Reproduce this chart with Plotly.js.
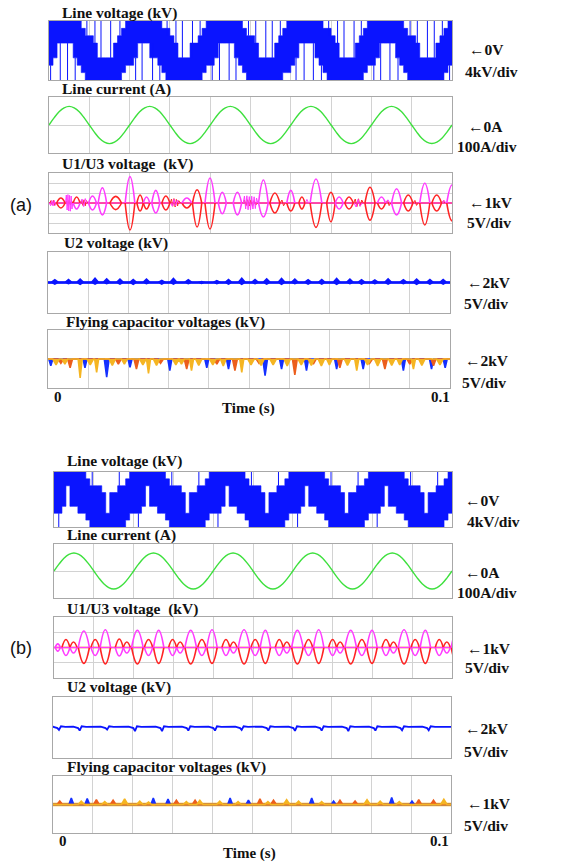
<!DOCTYPE html>
<html><head><meta charset="utf-8">
<script src="https://cdn.plot.ly/plotly-3.0.1.min.js"></script>
<style>html,body{margin:0;padding:0;background:#fff}#chart{width:583px;height:863px}</style>
</head><body><div id="chart"></div>
<script>
// ---------------- DATA (time in ms, 0..100 = 0..0.1 s) ----------------
const lvT = Array.from({length:101},(_,i)=>i);
// Line voltage envelopes (kV), panel (a)
const lvAU = [
10,10,10,10,10,10,10,8,6,4, 4,2,-2,-2,-2,-2,2,4,6,8,
10,10,10,10,10,10,10,8,6,6, 4,2,-2,-2,-2,2,2,4,6,8,
10,10,10,10,10,10,10,8,6,4, 4,2,-2,-2,-2,-2,2,4,6,8,
10,10,10,10,10,10,10,8,6,6, 4,2,-2,-2,-2,-2,2,4,6,8,
10,10,10,10,10,10,10,8,6,4, 4,2,-2,-2,-2,-2,2,4,6,8,
8];
const lvAL = [
-4,-2,2,2,2,2,-2,-4,-6,-8, -10,-10,-10,-10,-10,-10,-10,-8,-6,-4,
-4,-2,2,2,2,-2,-2,-4,-6,-8, -10,-10,-10,-10,-10,-10,-10,-8,-6,-4,
-4,-2,2,2,2,2,-2,-4,-6,-8, -10,-10,-10,-10,-10,-10,-10,-8,-6,-6,
-4,-2,2,2,2,2,-2,-4,-6,-8, -10,-10,-10,-10,-10,-10,-10,-8,-6,-4,
-4,-2,2,2,2,2,-2,-4,-6,-8, -10,-10,-10,-10,-10,-10,-10,-8,-6,-4,
-4];
// PWM spikes (a): time, from, to (kV)
const spkAT  = [0.4,2.8,4.6,6.5,9.4,11.4,12.9,15.3,17.6, 21.5,23.1,25.7,27.5,29.3,31.5,33.1,35.6,37.5,
 40.5,42.3,44.7,46.4,49.5,51.3,53.8,55.4,57.4, 61.3,63.3,65.6,67.6,69.4,71.6,73.2,75.7,77.5,
 80.6,82.3,84.6,86.6,89.6,91.4,93.9,95.6,97.6,99.4];
const spkAY0 = [-4,2,2,-2,4,2,-2,-2,4, -2,2,2,-4,4,2,-2,-2,4, -4,2,2,-2,4,2,-2,-2,4, -2,2,2,-4,4,2,-2,-2,4, -4,2,2,-2,4,2,-2,-2,4,-4];
const spkAY1 = [-10,-8,-10,-8,8,10,8,10,8, -10,-8,-10,-8,10,8,10,8,10, -10,-10,-8,-8,10,10,8,10,8, -10,-8,-10,-8,8,10,10,8,10, -10,-10,-8,-8,10,10,8,10,8,-10];
// Line voltage envelopes (kV), panel (b)
const lvBU = [
10,10,10,10,10,10,10,8,6,4, 4,4,2,-4,2,2,4,4,6,8,
10,10,10,10,10,10,10,8,6,4, 4,4,2,-4,2,2,4,4,6,8,
10,10,10,10,10,10,10,8,6,4, 4,4,2,-4,2,2,4,4,6,8,
10,10,10,10,10,10,10,8,6,4, 4,4,2,-4,2,2,4,4,6,8,
10,10,10,10,10,10,10,8,6,4, 4,4,2,-4,2,2,4,4,6,8,
8];
const lvBL = [
-4,-4,-2,4,-2,-2,-4,-4,-6,-8, -10,-10,-10,-10,-10,-10,-10,-8,-6,-4,
-4,-4,-2,4,-2,-2,-4,-4,-6,-8, -10,-10,-10,-10,-10,-10,-10,-8,-6,-4,
-4,-4,-2,4,-2,-2,-4,-4,-6,-8, -10,-10,-10,-10,-10,-10,-10,-8,-6,-4,
-4,-4,-2,4,-2,-2,-4,-4,-6,-8, -10,-10,-10,-10,-10,-10,-10,-8,-6,-4,
-4,-4,-2,4,-2,-2,-4,-4,-6,-8, -10,-10,-10,-10,-10,-10,-10,-8,-6,-4,
-4];
const spkBT  = [1.2,9.6,16.4, 21.2,29.6,36.4, 41.2,49.6,56.4, 61.2,69.6,76.4, 81.2,89.6,96.4];
const spkBY0 = [-4,4,4, -4,4,4, -4,4,4, -4,4,4, -4,4,4];
const spkBY1 = [-8,8,8, -8,8,8, -8,8,8, -8,8,8, -8,8,8];

// Line current (A), sampled every 1.25 ms
const curT = Array.from({length:81},(_,i)=>i*1.25);
const curA = [0,38,71,92,100,92,71,38,0,-38,-71,-92,-100,-92,-71,-38,
 0,38,71,92,100,92,71,38,0,-38,-71,-92,-100,-92,-71,-38,
 0,38,71,92,100,92,71,38,0,-38,-71,-92,-100,-92,-71,-38,
 0,38,71,92,100,92,71,38,0,-38,-71,-92,-100,-92,-71,-38,
 0,38,71,92,100,92,71,38,0,-38,-71,-92,-99,-92,-71,-38,0];
const curB = [0,38,71,92,100,92,71,38,0,-38,-71,-92,-100,-92,-71,-38,
 0,38,71,92,100,92,71,38,0,-38,-71,-92,-100,-92,-71,-38,
 0,38,71,92,100,92,71,38,0,-38,-71,-92,-100,-92,-71,-38,
 0,38,71,92,100,92,71,38,0,-38,-71,-92,-100,-92,-71,-38,
 0,38,71,92,100,92,71,38,0,-38,-71,-92,-100,-92,-71,-38,0];

// U1/U3 lenses: [start ms, end ms, top V, bottom V, top colour, bottom colour]
const lensA = [
[1.9,4.0,2.5,-2.5,'r','r'],[6.0,7.7,3,-3,'r','m'],[9.8,11.8,3.5,-3.5,'m','m'],[12.2,14.3,7.6,-6,'m','m'],
[15.1,18.0,3.3,-3.3,'r','r'],[18.9,21.3,13.2,-13.5,'m','r'],[21.8,23.4,4,-4,'r','r'],[23.4,25.0,3,-3,'m','r'],
[25.5,27.5,6.3,-5,'m','m'],[28.0,30.0,3.5,-3.5,'r','r'],[33.0,35.4,2.5,-2.5,'m','r'],[35.6,37.9,6.6,-12,'r','r'],
[38.7,41.2,12.5,-13,'m','r'],[42.0,44.0,5.4,-5.4,'m','m'],[45.7,47.8,5.4,-6,'m','m'],[52.0,54.4,11.5,-7,'m','m'],
[54.8,57.3,5,-5,'r','r'],[59.0,61.0,6.3,-4,'m','r'],[62.0,63.5,3,-3,'r','r'],[64.8,67.7,12,-12.2,'m','r'],
[68.9,71.0,5.4,-9.4,'r','r'],[71.0,73.0,3,-3,'m','m'],[73.4,75.5,3,-3,'r','r'],[78.4,80.9,7.9,-8.6,'r','r'],
[81.5,83.5,3,-3,'m','r'],[85.0,87.5,7.1,-6,'m','m'],[88.0,90.3,4,-4,'r','r'],[92.0,94.5,9.9,-11,'m','r'],
[95.0,97.4,4,-4,'r','r'],[98.7,101.3,9,-8.9,'m','r']];
const noiseART = [0.2,0.5,0.8,1.1,1.4,1.7,null,4.1,4.4,4.7,5.0,5.3,5.6,5.9,null,7.8,8.1,8.4,8.7,9.0,9.3,9.6,null,30.1,30.4,30.7,31.0,31.3,31.6,31.9,32.2,32.6,null,48.1,48.5,48.9,49.3,49.7,50.1,50.5,50.9,51.3,51.7,null,57.4,57.8,58.2,58.6,null,75.6,76.0,76.4,76.8,77.2,77.6,78.0,null,83.6,84.0,84.4,84.8,null,90.4,90.8,91.2,91.6,null,97.5,97.9,98.3];
const noiseARV = [0,1.2,-1,1.3,-1.2,0,null,0,1,-1.2,1.4,-1,1.1,0,null,0,1.5,-1.2,1.6,-1.4,1.2,0,null,0,2,-1.6,2.2,-2,1.8,-1.5,1.2,0,null,0,1.5,-1.3,1.6,-1.5,1.4,-1.6,1.2,-1,0,null,0,1.5,-1.4,0,null,0,2,-1.8,2.1,-1.6,1.5,0,null,0,1.4,-1.3,0,null,0,1.3,-1.2,0,null,0,1.2,0];
const noiseAMT = [0.1,0.4,0.7,1.0,1.3,1.6,1.9,null,4.1,4.3,4.5,4.7,4.9,5.1,5.3,5.5,5.7,5.9,null,7.8,8.2,8.6,9.0,9.4,null,30.2,30.6,31.0,31.4,31.8,32.2,null,48.2,48.5,48.8,49.1,49.4,49.7,50.0,50.3,50.6,50.9,51.2,51.5,51.8,null,63.6,64.0,64.4,null,75.7,76.2,76.7,77.2,77.7,null,83.6,84.1,84.6,null,97.5,98.0,98.5];
const noiseAMV = [0,-1.4,1.2,-1.5,1.3,-1.1,0,null,0,4,-3.5,4.2,-4,3.8,-4.1,3.5,-3,0,null,0,2,-1.8,2.2,0,null,0,-1.6,1.8,-1.5,1.4,0,null,0,3.5,-3,3.6,-3.4,3.2,-3.5,3.4,-3,3.1,-2.8,2.5,0,null,0,1.8,0,null,0,-2,1.8,-1.6,0,null,0,1.6,0,null,0,1.4,0];

const lensB = [
[0.3,1.6,1.2,-1.2,'m','m'],[2.0,4.0,2.6,-2.6,'r','m'],[4.0,5.8,1.8,-1.8,'r','m'],[6.1,8.9,5.4,-5.2,'m','r'],
[9.3,11.4,2.6,-2.6,'r','m'],[11.6,14.2,5.8,-5.4,'m','r'],[15.4,17.4,2.8,-2.8,'r','m'],[17.4,19.2,1.8,-1.8,'r','m'],
[19.5,22.4,5.6,-5.4,'m','r'],[22.7,24.8,2.6,-2.6,'r','m'],[25.0,27.6,5.6,-5.2,'m','r'],[28.8,30.8,2.6,-2.6,'r','m'],
[30.8,32.6,1.8,-1.8,'r','m'],[32.9,35.8,5.6,-5.4,'m','r'],[36.1,38.2,2.6,-2.6,'r','m'],[38.4,41.0,5.8,-5.2,'m','r'],
[42.2,44.2,2.6,-2.6,'r','m'],[44.2,46.0,1.8,-1.8,'r','m'],[46.3,49.2,5.8,-5.4,'m','r'],[49.5,51.6,2.6,-2.6,'r','m'],
[51.8,54.4,5.6,-5.2,'m','r'],[55.6,57.6,2.6,-2.6,'r','m'],[57.6,59.4,1.8,-1.8,'r','m'],[59.7,62.6,5.6,-5.4,'m','r'],
[62.9,65.0,2.6,-2.6,'r','m'],[65.2,67.8,5.8,-5.2,'m','r'],[69.0,71.0,2.6,-2.6,'r','m'],[71.0,72.8,1.8,-1.8,'r','m'],
[73.1,76.0,5.6,-5.4,'m','r'],[76.3,78.4,2.6,-2.6,'r','m'],[78.6,81.2,5.6,-5.2,'m','r'],[82.4,84.4,2.6,-2.6,'r','m'],
[84.4,86.2,1.8,-1.8,'r','m'],[86.5,89.4,5.8,-5.4,'m','r'],[89.7,91.8,2.6,-2.6,'r','m'],[92.0,94.6,5.6,-5.2,'m','r'],
[95.8,97.8,2.6,-2.6,'r','m'],[97.8,99.6,1.8,-1.8,'r','m'],[99.8,102.6,5.6,-5.4,'m','r']];

// U2 voltage (V deviation): bump centres, upper and lower lobe heights
const u2aT = [1.7,5.1,8.0,11.7,14.6,17.9,21.2,24.5,28.3,31.2,34.9,38.2,42.0,44.9,48.2,51.5,54.4,58.1,61.4,64.7,68.1,71.8,75.1,78.0,81.3,84.6,88.4,91.7,95.0,98.3];
const u2aH = [0.9,1.0,1.1,1.4,1.2,1.1,1.0,1.1,0.7,1.3,0.9,0.3,0.6,1.0,1.4,1.0,1.2,1.3,1.1,0.9,1.0,1.3,1.1,0.9,0.8,1.2,0.9,1.1,1.0,1.0];
const u2aL = [-0.5,-0.4,-0.6,-0.5,-0.4,-0.5,-0.6,-0.4,-0.5,-0.5,-0.4,-0.3,-0.4,-0.5,-0.6,-0.4,-0.5,-0.6,-0.4,-0.5,-0.5,-0.6,-0.4,-0.5,-0.4,-0.5,-0.4,-0.6,-0.5,-0.5];
const u2bT = [1.5,6.7,13.6,20.6,27.4,34.0,40.7,47.4,54.1,60.8,67.5,74.2,81.0,87.7,94.4];
const u2bD = [-0.8,-1.0,-0.7,-1.2,-1.2,-1.0,-1.0,-0.8,-1.0,-1.1,-1.0,-1.2,-1.0,-0.9,-0.9];

// Flying capacitor voltages (V deviation): centre, depth, half-width
const fcABlueT = [0.7,9.2,14.6,20.4,30.3,39.5,44.9,54.0,58.1,64.3,71.8,78.4,88.4,95.4,98.8];
const fcABlueD = [-2.3,-3,-6.3,-2.9,-4,-3,-3.5,-5.7,-3.5,-4,-3.5,-3.5,-4,-3.5,-3];
const fcABlueW = [0.5,0.5,0.6,0.5,0.5,0.5,0.5,0.6,0.5,0.5,0.5,0.5,0.5,0.5,0.5];
const fcARedT = [3.2,5.5,17.5,22.0,28.0,34.5,42.0,46.5,52.5,61.4,66.0,72.6,80.0,83.8,90.0,95.9];
const fcARedD = [-1.5,-3,-1.8,-3.5,-1.5,-3.5,-1.8,-4,-1.5,-5.5,-1.8,-3,-1.5,-3.5,-1.8,-2.3];
const fcARedW = [0.7,0.6,0.7,0.6,0.7,0.6,0.7,0.6,0.7,0.6,0.7,0.6,0.7,0.6,0.7,0.6];
const fcAGoldT = [2.0,4.2,8.0,10.5,12.1,16.0,19.0,23.6,25.0,27.0,31.8,33.2,35.7,37.5,41.0,43.6,48.2,50.5,53.0,56.0,59.5,63.0,65.5,68.0,70.0,74.5,76.8,79.5,82.0,85.5,87.5,90.9,93.0,97.5];
const fcAGoldD = [-2,-1.8,-6.5,-2,-4.6,-2.2,-1.8,-2,-5,-2.2,-2,-1.8,-4,-2.2,-2,-2.4,-4.6,-2,-2.2,-2,-2.4,-2,-2.2,-2.4,-2,-2.2,-4,-2,-2.4,-2.2,-2,-3.5,-2.2,-2];
const fcAGoldW = [0.8,0.7,0.5,0.8,0.5,0.8,0.7,0.8,0.5,0.8,0.8,0.7,0.5,0.8,0.8,0.7,0.5,0.8,0.8,0.8,0.8,0.8,0.8,0.8,0.7,0.8,0.5,0.8,0.8,0.8,0.7,0.5,0.8,0.8];

const fcBBlueT = [4.6,8.6,25.2,28.9,44.5,49.1,65.0,70.5,85.1,90.2];
const fcBBlueD = [2.3,2.1,2.3,1.9,2.3,1.5,2.3,1.2,2.5,1.2];
const fcBRedT = [1.7,10.9,15.1,31.0,35.7,52.0,55.4,72.1,75.9,91.9,95.6];
const fcBRedD = [1.2,1.7,1.5,1.5,1.5,2.0,1.5,1.5,1.2,1.7,1.5];
const fcBGoldT = [7.1,13.0,18.0,21.8,24.0,33.5,36.9,41.9,46.5,54.0,58.7,61.7,67.5,78.9,82.2,87.0,98.2];
const fcBGoldD = [1.2,1.0,2.0,1.2,0.9,1.0,1.5,1.2,1.0,1.0,1.7,1.2,1.0,1.7,1.2,1.0,1.8];

// ---------------- BUILD ----------------
const W=583, H=863;
const BLUE='#0a14ff', GREEN='#3ee03e', MAG='#ff3cff', RED='#ff2424', ORNG='#ec5e1c', GOLD='#f5b522', FCBLUE='#1430ff';
const boxes = [
 [49,452,21,80],[49,452,97,153],[49,452,173,233],[48,450,252,313],[48,450,330,388],
 [54,452,472,527],[54,452,544,598],[54,452,617,678],[53,451,697,758],[53,451,776,833]];
const yr = [[-8,8],[-150,150],[-15,15],[-10,10],[-10,10],[-8,8],[-150,150],[-10,10],[-10,10],[-10,10]];
const ygrid = [false,true,true,false,false,false,true,true,false,false];
const ydt = [4,150,5,5,5,4,150,5,5,5];

const traces=[];
function ax(i){return {xaxis:'x'+(i+1), yaxis:'y'+(i+1)};}
function add(i,t){traces.push(Object.assign({type:'scatter',mode:'lines',hoverinfo:'skip',showlegend:false},ax(i),t));}

function lineVoltage(i,U,L,ST,S0,S1){
  add(i,{x:lvT,y:L,line:{width:0.6,color:BLUE,shape:'hv'}});
  add(i,{x:lvT,y:U,line:{width:0.6,color:BLUE,shape:'hv'},fill:'tonexty',fillcolor:BLUE});
  const x=[],y=[];
  ST.forEach((t,k)=>{x.push(t,t,null);y.push(S0[k],S1[k],null);});
  add(i,{x:x,y:y,line:{width:1,color:BLUE}});
}
function lenses(i,list,noise){
  add(i,{x:[0,100],y:[0,0],line:{width:1.4,color:RED}});
  add(i,{x:[0,100],y:[0,0],line:{width:1,color:MAG}});
  if(noise){
    add(i,{x:noise[0],y:noise[1],line:{width:1,color:RED}});
    add(i,{x:noise[2],y:noise[3],line:{width:1,color:MAG}});
  }
  ['r','m'].forEach(c=>{
    const x=[],y=[];
    list.forEach(l=>{
      const mid=(l[0]+l[1])/2;
      if(l[4]===c){x.push(l[0],mid,l[1],null);y.push(0,l[2],0,null);}
      if(l[5]===c){x.push(l[0],mid,l[1],null);y.push(0,l[3],0,null);}
    });
    add(i,{x:x,y:y,line:{width:1.6,color:c==='r'?RED:MAG,shape:'spline',smoothing:1.3}});
  });
}
function blobs(i,T,D,Wd,color,wdef){
  const x=[0],y=[0];
  T.forEach((t,k)=>{const w=Wd?Wd[k]:wdef;x.push(t-w,t,t+w);y.push(0,D[k],0);});
  x.push(100);y.push(0);
  add(i,{x:x,y:y,line:{width:1.6,color:color},fill:'tozeroy',fillcolor:color});
}

// (a)
lineVoltage(0,lvAU,lvAL,spkAT,spkAY0,spkAY1);
add(1,{x:curT,y:curA,line:{width:1.4,color:GREEN,shape:'spline',smoothing:1}});
lenses(2,lensA,[noiseART,noiseARV,noiseAMT,noiseAMV]);
blobs(3,u2aT,u2aH,null,BLUE,0.9);
blobs(3,u2aT,u2aL,null,BLUE,0.7);
add(3,{x:[0,100],y:[0,0],line:{width:2.6,color:BLUE}});
blobs(4,fcABlueT,fcABlueD,fcABlueW,FCBLUE);
blobs(4,fcARedT,fcARedD,fcARedW,ORNG);
blobs(4,fcAGoldT,fcAGoldD,fcAGoldW,GOLD);
// (b)
lineVoltage(5,lvBU,lvBL,spkBT,spkBY0,spkBY1);
add(6,{x:curT,y:curB,line:{width:1.4,color:GREEN,shape:'spline',smoothing:1}});
lenses(7,lensB,null);
(function(){const x=[0],y=[0.2];u2bT.forEach((t,k)=>{x.push(t-1.6,t-0.4,t,t+0.5,t+1.6);y.push(0.3,-0.2,u2bD[k],0.4,0.2);});x.push(100);y.push(0.2);
  add(8,{x:x,y:y,line:{width:1.8,color:BLUE}});})();
add(9,{x:[0,100],y:[0,0],line:{width:3.5,color:GOLD}});
blobs(9,fcBBlueT,fcBBlueD,null,FCBLUE,0.6);
blobs(9,fcBRedT,fcBRedD,null,ORNG,0.7);
blobs(9,fcBGoldT,fcBGoldD,null,GOLD,0.8);

const layout={width:W,height:H,margin:{l:0,r:0,t:0,b:0},paper_bgcolor:'#fff',plot_bgcolor:'#fff',showlegend:false,annotations:[]};
boxes.forEach((b,i)=>{
  const n=i+1;
  layout['xaxis'+n]={domain:[b[0]/W,b[1]/W],anchor:'y'+n,range:[0,100],dtick:10,showgrid:true,gridcolor:'#d2d2d2',gridwidth:1,
    showticklabels:false,ticks:'',zeroline:false,showline:true,mirror:true,linecolor:'#a8a8a8',linewidth:1,fixedrange:true};
  layout['yaxis'+n]={domain:[1-b[3]/H,1-b[2]/H],anchor:'x'+n,range:yr[i],dtick:ydt[i],showgrid:ygrid[i],gridcolor:'#d2d2d2',
    showticklabels:false,ticks:'',zeroline:false,showline:true,mirror:true,linecolor:'#a8a8a8',linewidth:1,fixedrange:true};
});
function ann(text,px,py,size,fam,xa){
  layout.annotations.push({text:text,x:px/W,y:1-py/H,xref:'paper',yref:'paper',xanchor:xa||'left',yanchor:'middle',showarrow:false,
    font:{family:fam||'Liberation Serif',size:size||15,color:'#111'}});
}
const titles=['Line voltage (kV)','Line current (A)','U1/U3 voltage&nbsp;&nbsp;(kV)','U2 voltage (kV)','Flying capacitor voltages (kV)'];
const tyA=[13,89,164,243,322], txA=[60,60,60,62,64];
const tyB=[461,535,609,687,767], txB=[65,65,65,65,65];
titles.forEach((t,k)=>{ann('<b>'+t+'</b>',txA[k],tyA[k],15.5);ann('<b>'+t+'</b>',txB[k],tyB[k],15.5);});
const rA=[['←0V',467,50],['4kV/div',463,71],['←0A',466,127],['100A/div',455,147],['←1kV',467,203],['5V/div',465,223],
 ['←2kV',465,282],['5V/div',462,303],['←2kV',463,360],['5V/div',460,383]];
const rB=[['←0V',463,500],['4kV/div',465,521],['←0A',463,572],['100A/div',455,592],['←1kV',465,648],['5V/div',463,667],
 ['←2kV',463,728],['5V/div',462,751],['←1kV',465,803],['5V/div',462,825]];
rA.concat(rB).forEach(r=>ann('<b>'+r[0]+'</b>',r[1],r[2],15.5));
ann('(a)',8,205,18,'Liberation Sans');
ann('(b)',8,648,18,'Liberation Sans');
ann('<b>0</b>',52,397,15);ann('<b>0.1</b>',452,397,15,null,'right');ann('<b>Time (s)</b>',248,408,15,null,'center');
ann('<b>0</b>',57,841,15);ann('<b>0.1</b>',451,841,15,null,'right');ann('<b>Time (s)</b>',249,853,15,null,'center');

Plotly.newPlot('chart',traces,layout,{staticPlot:true,displayModeBar:false});
</script></body></html>
